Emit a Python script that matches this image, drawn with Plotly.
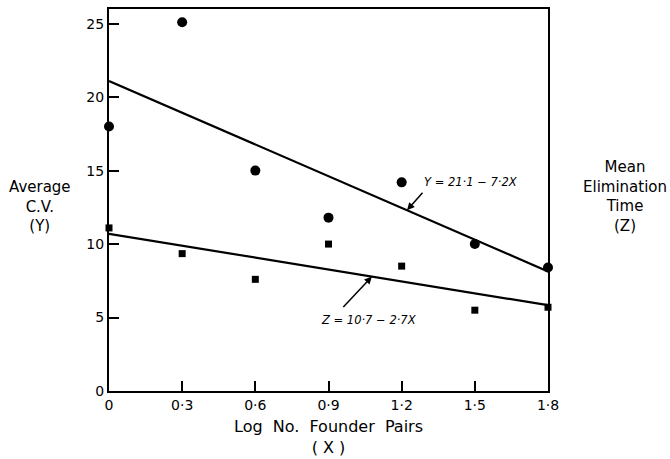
import plotly.graph_objects as go

# Data
x_vals = [0, 0.3, 0.6, 0.9, 1.2, 1.5, 1.8]
avg_cv_y = [18.0, 25.1, 15.0, 11.8, 14.2, 10.0, 8.4]
elim_time_z = [11.1, 9.35, 7.6, 10.0, 8.5, 5.5, 5.7]
y_intercept, y_slope = 21.1, -7.2
z_intercept, z_slope = 10.7, -2.7
x_tick_vals = [0, 0.3, 0.6, 0.9, 1.2, 1.5, 1.8]
x_tick_text = ["0", "0·3", "0·6", "0·9", "1·2", "1·5", "1·8"]
y_tick_vals = [0, 5, 10, 15, 20, 25]
y_tick_text = ["0", "5", "10", "15", "20", "25"]

FONT = "DejaVu Sans"
fit_x = [x_vals[0], x_vals[-1]]
fit_y = [y_intercept + y_slope * v for v in fit_x]
fit_z = [z_intercept + z_slope * v for v in fit_x]

fig = go.Figure()
fig.add_trace(go.Scatter(x=fit_x, y=fit_y, mode="lines",
                         line=dict(color="black", width=2.2), hoverinfo="skip"))
fig.add_trace(go.Scatter(x=fit_x, y=fit_z, mode="lines",
                         line=dict(color="black", width=2.2), hoverinfo="skip"))
fig.add_trace(go.Scatter(x=x_vals, y=avg_cv_y, mode="markers",
                         marker=dict(symbol="circle", size=10, color="black"),
                         cliponaxis=False))
fig.add_trace(go.Scatter(x=x_vals, y=elim_time_z, mode="markers",
                         marker=dict(symbol="square", size=7, color="black"),
                         cliponaxis=False))

# Equation annotations with arrows
ya_head = 1.222
za_head = 1.078
fig.add_annotation(x=ya_head, y=y_intercept + y_slope * ya_head, xref="x", yref="y",
                   ax=1.291, ay=13.6, axref="x", ayref="y", text="",
                   showarrow=True, arrowhead=2, arrowsize=1, arrowwidth=1.5,
                   arrowcolor="black")
fig.add_annotation(x=1.283, y=14.23, xref="x", yref="y", xanchor="left", yanchor="middle",
                   text="<i>Y = 21·1 − 7·2X</i>", showarrow=False,
                   font=dict(family=FONT, size=11.5, color="black"))
fig.add_annotation(x=za_head, y=z_intercept + z_slope * za_head, xref="x", yref="y",
                   ax=0.955, ay=5.62, axref="x", ayref="y", text="",
                   showarrow=True, arrowhead=2, arrowsize=1, arrowwidth=1.5,
                   arrowcolor="black")
fig.add_annotation(x=1.064, y=4.81, xref="x", yref="y", xanchor="center", yanchor="middle",
                   text="<i>Z = 10·7 − 2·7X</i>", showarrow=False,
                   font=dict(family=FONT, size=11.5, color="black"))

# Side labels
fig.add_annotation(x=-0.157, y=0.484, xref="paper", yref="paper",
                   xanchor="center", yanchor="middle",
                   text="Average<br>C.V.<br>(Y)", showarrow=False,
                   font=dict(family=FONT, size=15, color="black"), align="center")
fig.add_annotation(x=1.175, y=0.508, xref="paper", yref="paper",
                   xanchor="center", yanchor="middle",
                   text="Mean<br>Elimination<br>Time<br>(Z)", showarrow=False,
                   font=dict(family=FONT, size=15, color="black"), align="center")
fig.add_annotation(x=0.5, y=-0.12, xref="paper", yref="paper",
                   xanchor="center", yanchor="middle",
                   text="Log  No.  Founder  Pairs<br>( X )", showarrow=False,
                   font=dict(family=FONT, size=16, color="black"), align="center")

fig.update_layout(
    width=670, height=459,
    margin=dict(l=109, r=122, t=7, b=68),
    plot_bgcolor="white", paper_bgcolor="white",
    showlegend=False,
    font=dict(family=FONT, size=13, color="black"),
)
fig.update_xaxes(range=[0, 1.8], tickvals=x_tick_vals, ticktext=x_tick_text,
                 ticks="inside", ticklen=10, tickwidth=1.5, tickcolor="black",
                 showline=True, linecolor="black", linewidth=2, mirror=True,
                 showgrid=False, zeroline=False,
                 tickfont=dict(family=FONT, size=14, color="black"))
fig.update_yaxes(range=[0, 26], tickvals=y_tick_vals, ticktext=y_tick_text,
                 ticks="inside", ticklen=10, tickwidth=1.5, tickcolor="black",
                 showline=True, linecolor="black", linewidth=2, mirror=True,
                 showgrid=False, zeroline=False,
                 tickfont=dict(family=FONT, size=14, color="black"))

fig.write_html("out.html", config={"displayModeBar": False},
               post_script="document.body.style.margin='0';document.body.style.padding='0';")
